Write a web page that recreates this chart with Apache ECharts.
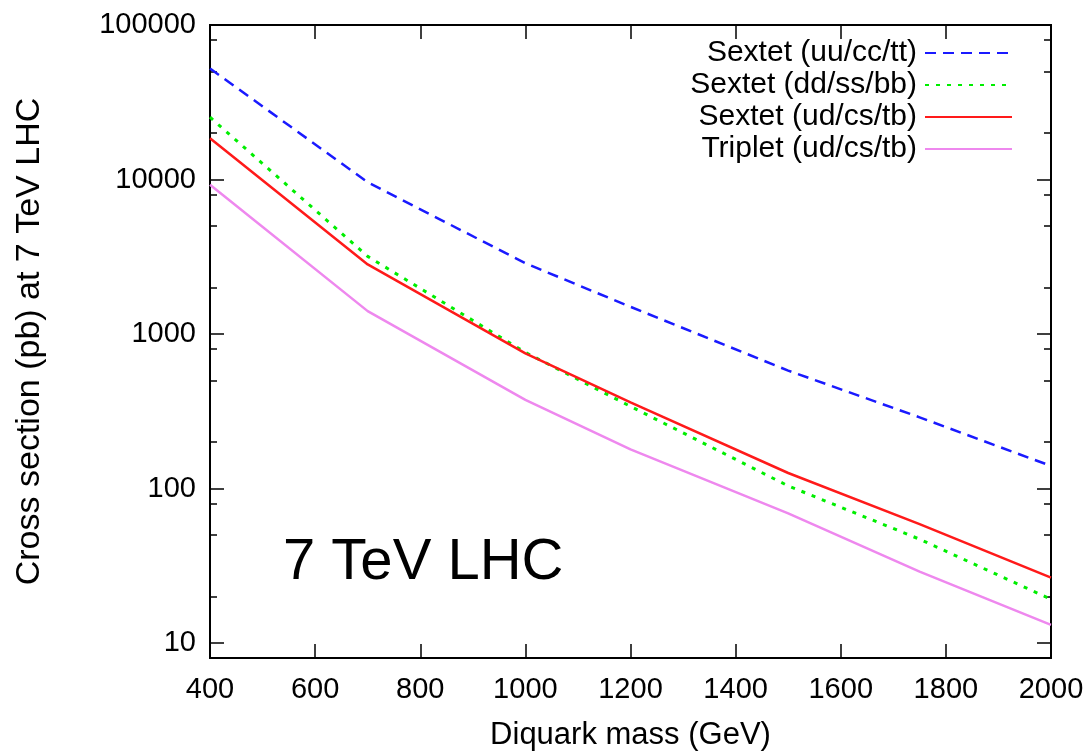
<!DOCTYPE html>
<html>
<head>
<meta charset="utf-8">
<script src="https://cdn.jsdelivr.net/npm/echarts@6/dist/echarts.min.js"></script>
<style>
  html, body { margin: 0; padding: 0; background: #fff; }
  #chart { width: 1090px; height: 756px; }
</style>
</head>
<body>
<div id="chart"></div>
<script>
// diquark mass (GeV)
var masses = [400, 700, 1000, 1200, 1500, 1750, 2000];
// cross sections (pb)
var sextetUU = [52300, 9600, 2870, 1500, 580, 289, 140];
var sextetDD = [25300, 3180, 760, 340, 104, 47, 19.2];
var sextetUD = [18500, 2820, 750, 361, 126, 58.8, 26.5];
var tripletUD = [9250, 1406, 375, 179, 69, 29, 13.1];

var seriesNames = ['Sextet (uu/cc/tt)', 'Sextet (dd/ss/bb)', 'Sextet (ud/cs/tb)', 'Triplet (ud/cs/tb)'];
var majorTicks = [10, 100, 1000, 10000, 100000];
var minorTicks = [20, 50, 80, 200, 500, 800, 2000, 5000, 8000, 20000, 50000, 80000];

var FONT = 'Liberation Sans';

function pairs(ys) {
    return masses.map(function (m, i) { return [m, ys[i]]; });
}

// y axis helper: main/minor, left/right
function yAx(pos, ticks, len, showLabel) {
    return {
        type: 'log',
        position: pos,
        min: 8,
        max: 100000,
        axisLine: { show: true, lineStyle: { color: '#000', width: 2 } },
        axisTick: { show: true, inside: true, length: len, customValues: ticks, lineStyle: { color: '#000', width: 1.5 } },
        axisLabel: showLabel ? {
            show: true, customValues: majorTicks, margin: 14,
            color: '#000', fontFamily: FONT, fontSize: 29,
            formatter: function (v) { return String(Math.round(v)); }
        } : { show: false },
        splitLine: { show: false },
        minorTick: { show: false }
    };
}

var myChart = echarts.init(document.getElementById('chart'));

var yMain = yAx('left', majorTicks, 14, true);
yMain.name = 'Cross section (pb) at 7 TeV LHC';
yMain.nameLocation = 'middle';
yMain.nameGap = 163;
yMain.nameTextStyle = { color: '#000', fontFamily: FONT, fontSize: 34 };

var option = {
    animation: false,
    backgroundColor: '#fff',
    grid: { left: 210, right: 39, top: 25, bottom: 95 },
    xAxis: [{
        type: 'value',
        min: 400, max: 2000, interval: 200,
        name: 'Diquark mass (GeV)',
        nameLocation: 'middle',
        nameGap: 62,
        nameTextStyle: { color: '#000', fontFamily: FONT, fontSize: 31 },
        axisLine: { show: true, lineStyle: { color: '#000', width: 2 } },
        axisTick: { show: true, inside: true, length: 14, lineStyle: { color: '#000', width: 1.5 } },
        axisLabel: {
            color: '#000', fontFamily: FONT, fontSize: 29, margin: 17, showMinLabel: true, showMaxLabel: true,
            formatter: function (v) { return String(v); }
        },
        splitLine: { show: false }
    }, {
        type: 'value',
        position: 'top',
        min: 400, max: 2000, interval: 200,
        axisLine: { show: true, lineStyle: { color: '#000', width: 2 } },
        axisTick: { show: true, inside: true, length: 14, lineStyle: { color: '#000', width: 1.5 } },
        axisLabel: { show: false },
        splitLine: { show: false }
    }],
    yAxis: [
        yMain,
        yAx('left', minorTicks, 7, false),
        yAx('right', majorTicks, 14, false),
        yAx('right', minorTicks, 7, false)
    ],
    legend: {
        orient: 'vertical',
        right: 72,
        top: 33,
        align: 'right',
        itemWidth: 87,
        itemHeight: 14,
        itemGap: 2,
        itemStyle: { opacity: 0 },
        textStyle: { color: '#000', fontFamily: FONT, fontSize: 30, padding: [0, 3, 0, 0] },
        data: seriesNames
    },
    graphic: [{
        type: 'text',
        left: 283,
        top: 534,
        style: { text: '7 TeV LHC', font: '58px "Liberation Sans"', fill: '#000' }
    }],
    series: [{
        name: seriesNames[0], type: 'line', data: pairs(sextetUU), showSymbol: false, symbol: 'none',
        lineStyle: { color: '#1a1aff', width: 2.5, type: [11, 7] }, itemStyle: { color: '#1a1aff' }
    }, {
        name: seriesNames[1], type: 'line', data: pairs(sextetDD), showSymbol: false, symbol: 'none',
        lineStyle: { color: '#00ee00', width: 3, type: [4, 7] }, itemStyle: { color: '#00ee00' }
    }, {
        name: seriesNames[2], type: 'line', data: pairs(sextetUD), showSymbol: false, symbol: 'none',
        lineStyle: { color: '#ff1a1a', width: 2.5 }, itemStyle: { color: '#ff1a1a' }
    }, {
        name: seriesNames[3], type: 'line', data: pairs(tripletUD), showSymbol: false, symbol: 'none',
        lineStyle: { color: '#ee88ee', width: 2.5 }, itemStyle: { color: '#ee88ee' }
    }]
};

myChart.setOption(option);
</script>
</body>
</html>
